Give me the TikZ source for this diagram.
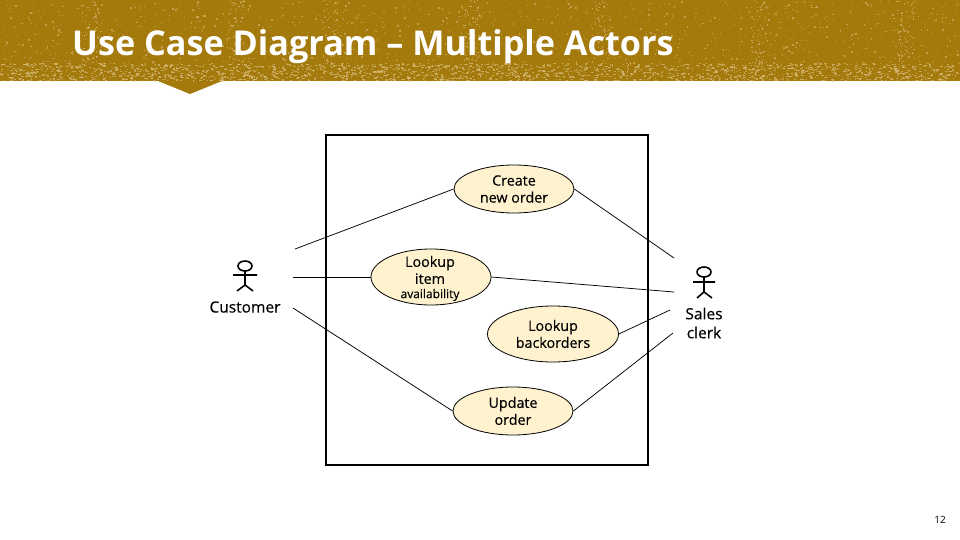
\documentclass[tikz,border=0pt]{standalone}
\usepackage{fontspec}
\setmainfont{Open Sans}
\newfontfamily\heavyfont[FakeBold=0.35]{Open Sans}
\usetikzlibrary{shapes.geometric}
\definecolor{bandc}{HTML}{A47A0C}
\definecolor{speck}{HTML}{DCC388}
\definecolor{usefill}{HTML}{FFF2CF}
\tikzset{
  usecase/.style={draw=black,fill=usefill,ellipse,inner sep=0pt,line width=.8pt},
  casetext/.style={align=center,inner sep=0pt,font=\heavyfont\fontsize{14.3}{17}\selectfont},
  link/.style={draw=black,line width=.75pt},
  stick/.style={draw=black,line width=1.6pt},
  actorlabel/.style={align=center,inner sep=0pt,font=\heavyfont\fontsize{15.5}{19}\selectfont},
  speckdot/.style={fill=speck}
}
\begin{document}
\begin{tikzpicture}[x=1pt,y=-1pt]
\useasboundingbox (0,0) rectangle (960,540);
\fill[white] (0,0) rectangle (960,540);
% banner
\fill[bandc] (0,0) -- (960,0) -- (960,81) -- (222,81) -- (190,94) -- (158,81) -- (0,81) -- cycle;
\pgfmathsetseed{12}
% fine scratches over the whole banner
\foreach \i in {1,...,1100}{
  \pgfmathsetmacro{\px}{rnd*960}
  \pgfmathsetmacro{\py}{rnd*80}
  \pgfmathsetmacro{\pw}{.6+rnd*1.2}
  \fill[speckdot,opacity=.5] (\px,\py) rectangle ++(\pw,\pw);
}
% worn vertical streaks
\foreach \sx in {90,235,330,470,600,760,905}{
  \foreach \i in {1,...,70}{
    \pgfmathsetmacro{\px}{\sx+(rnd-.5)*18}
    \pgfmathsetmacro{\py}{rnd*64}
    \fill[speckdot,opacity=.55] (\px,\py) rectangle ++(1.2,1.2);
  }
}
% worn lower band
\foreach \i in {1,...,1800}{
  \pgfmathsetmacro{\px}{rnd*960}
  \pgfmathsetmacro{\py}{63+rnd*17.5}
  \pgfmathsetmacro{\pw}{.8+rnd*2.2}
  \fill[speckdot,opacity=.6] (\px,\py) rectangle ++(\pw,1.2);
}
\node[anchor=west,inner sep=0pt,text=white,font=\fontsize{34.2}{38}\selectfont\bfseries] (title) at (72,47) {Use Case Diagram – Multiple Actors};
% system boundary
\node[draw=black,line width=2pt,minimum width=322pt,minimum height=330pt,inner sep=0pt] (system) at (487,300) {};
% use cases
\node[usecase,minimum width=120pt,minimum height=48pt] (create) at (514,189) {};
\node[usecase,minimum width=120pt,minimum height=56pt] (lookup) at (431,277) {};
\node[usecase,minimum width=131pt,minimum height=56pt] (back) at (553,334) {};
\node[usecase,minimum width=120pt,minimum height=48pt] (update) at (513,411) {};
\node[casetext] (createtext) at (514,189) {Create\\new order};
\node[casetext] (lookuptext) at (430,270) {Lookup\\item};
\node[inner sep=0pt,font=\heavyfont\fontsize{12}{14}\selectfont] (availtext) at (430,295) {availability};
\node[casetext] (backtext) at (553,334) {Lookup\\backorders};
\node[casetext] (updatetext) at (513,411) {Update\\order};
% actors
\draw[stick] (245,266) ellipse (7 and 5);
\draw[stick] (245,271) -- (245,285) (233,275) -- (257,275) (237,291) -- (245,285) -- (253,291);
\draw[stick] (704,272) ellipse (7 and 5);
\draw[stick] (704,277) -- (704,292) (693,282) -- (715,282) (697,298) -- (704,292) -- (712,298);
\node[actorlabel] (customer) at (245,307) {Customer};
\node[actorlabel] (sales) at (704,323) {Sales\\clerk};
% free connector ends
\coordinate (c1) at (295,249);
\coordinate (c2) at (293,277);
\coordinate (c3) at (293,308);
\coordinate (s1) at (674,258);
\coordinate (s2) at (674,292);
\coordinate (s3) at (670,310);
\coordinate (s4) at (673,333);
% connectors
\draw[link] (c1) -- (create.west);
\draw[link] (c2) -- (lookup.west);
\draw[link] (c3) -- (update.west);
\draw[link] (create.east) -- (s1);
\draw[link] (lookup.east) -- (s2);
\draw[link] (back.east) -- (s3);
\draw[link] (update.east) -- (s4);
\node[inner sep=0pt,font=\fontsize{10}{12}\selectfont,text=black] (page) at (940,520) {12};
\end{tikzpicture}
\end{document}
